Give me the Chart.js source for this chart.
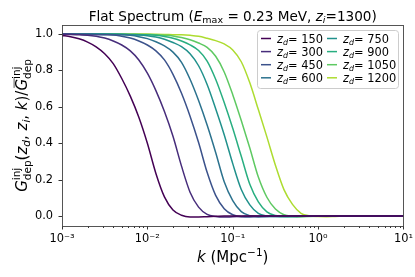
<!DOCTYPE html>
<html>
<head>
<meta charset="utf-8">
<script src="https://cdn.jsdelivr.net/npm/chart.js@4.4.1/dist/chart.umd.min.js"></script>
<style>
  html, body { margin: 0; padding: 0; background: #fff; }
</style>
</head>
<body>
<canvas id="depChart" width="415" height="277"></canvas>
<script>
// log10(k) sample points, k in Mpc^-1
const kExp = [-3.0, -2.9, -2.8, -2.7, -2.6, -2.5, -2.4, -2.3, -2.2, -2.1,
              -2.0, -1.9, -1.8, -1.7, -1.6, -1.5, -1.4, -1.3, -1.2, -1.1,
              -1.0, -0.9, -0.8, -0.7, -0.6, -0.5, -0.4, -0.3, -0.2, -0.1,
               0.0,  0.1,  0.2,  0.3,  0.4,  0.5,  0.6,  0.7,  0.8,  0.9, 1.0];

const zdValues = [150, 300, 450, 600, 750, 900, 1050, 1200];

const g150 = [0.993, 0.986, 0.974, 0.956, 0.93, 0.892, 0.838, 0.756, 0.659, 0.543,
              0.40, 0.234, 0.105, 0.033, 0.004, -0.005, -0.005, -0.0035, -0.002, -0.0005,
              0, 0, 0, 0, 0, 0, 0, 0, 0, 0,
              0, 0, 0, 0, 0, 0, 0, 0, 0, 0, 0];
const g300 = [0.999, 0.998, 0.996, 0.994, 0.988, 0.978, 0.962, 0.94, 0.908, 0.858,
              0.785, 0.689, 0.574, 0.438, 0.274, 0.131, 0.049, 0.009, -0.003, -0.006,
              -0.004, -0.0025, -0.001, 0, 0, 0, 0, 0, 0, 0,
              0, 0, 0, 0, 0, 0, 0, 0, 0, 0, 0];
const g450 = [1.0, 1.0, 0.999, 0.998, 0.997, 0.996, 0.995, 0.988, 0.978, 0.962,
              0.94, 0.908, 0.858, 0.779, 0.675, 0.549, 0.404, 0.24, 0.113, 0.04,
              0.007, -0.004, -0.005, -0.0035, -0.002, -0.001, 0, 0, 0, 0,
              0, 0, 0, 0, 0, 0, 0, 0, 0, 0, 0];
const g600 = [1.0, 1.0, 1.0, 1.0, 0.999, 0.998, 0.997, 0.996, 0.993, 0.986,
              0.975, 0.958, 0.935, 0.901, 0.845, 0.752, 0.635, 0.5, 0.349, 0.188,
              0.084, 0.024, 0.002, -0.004, -0.004, -0.003, -0.0018, -0.0005, 0, 0,
              0, 0, 0, 0, 0, 0, 0, 0, 0, 0, 0];
const g750 = [1.0, 1.0, 1.0, 1.0, 1.0, 1.0, 0.999, 0.998, 0.997, 0.995,
              0.991, 0.984, 0.972, 0.954, 0.931, 0.892, 0.826, 0.723, 0.59, 0.447,
              0.288, 0.146, 0.061, 0.014, 0.0, -0.003, -0.004, -0.003, -0.0015, -0.0005,
              0, 0, 0, 0, 0, 0, 0, 0, 0, 0, 0];
const g900 = [1.0, 1.0, 1.0, 1.0, 1.0, 1.0, 1.0, 0.999, 0.998, 0.997,
              0.996, 0.993, 0.987, 0.977, 0.962, 0.941, 0.91, 0.852, 0.752, 0.624,
              0.482, 0.328, 0.174, 0.078, 0.023, 0.003, -0.003, -0.004, -0.003, -0.002,
              -0.001, 0, 0, 0, 0, 0, 0, 0, 0, 0, 0];
const g1050 = [1.0, 1.0, 1.0, 1.0, 1.0, 1.0, 1.0, 1.0, 0.999, 0.999,
               0.998, 0.997, 0.994, 0.99, 0.981, 0.969, 0.951, 0.927, 0.878, 0.792,
               0.667, 0.525, 0.374, 0.214, 0.103, 0.038, 0.007, -0.001, -0.004, -0.003,
               -0.002, -0.001, 0, 0, 0, 0, 0, 0, 0, 0, 0];
const g1200 = [1.0, 1.0, 1.0, 1.0, 1.0, 1.0, 1.0, 1.0, 1.0, 1.0,
               1.0, 0.999, 0.998, 0.997, 0.996, 0.993, 0.988, 0.977, 0.964, 0.946,
               0.913, 0.848, 0.732, 0.585, 0.435, 0.279, 0.145, 0.064, 0.015, 0.001,
               -0.003, -0.0036, -0.0026, -0.0015, -0.0005, 0, 0, 0, 0, 0, 0];

const seriesValues = [g150, g300, g450, g600, g750, g900, g1050, g1200];

// viridis samples
const lineColors = ['#440154', '#472d7b', '#3b528b', '#2c728e',
                    '#21918c', '#28ae80', '#5ec962', '#addc30'];

const xMajor = [1e-3, 1e-2, 1e-1, 1, 10];
const xTickLabels = ['10\u207B\u00B3', '10\u207B\u00B2', '10\u207B\u00B9', '10\u2070', '10\u00B9'];
const yTicks = [0, 0.2, 0.4, 0.6, 0.8, 1.0];
const yTickLabels = ['0.0', '0.2', '0.4', '0.6', '0.8', '1.0'];

const FONT = '"DejaVu Sans", sans-serif';

function fontOf(sz, it) {
  return (it ? 'italic ' : '') + sz + 'px ' + FONT;
}

// small helper for mathtext-like strings: sub / sup / stacked sup+sub
function measureParts(ctx, parts, sz) {
  let w = 0;
  for (const p of parts) {
    const s = (p.sub || p.sup || p.both) ? sz * 0.7 : sz;
    ctx.font = fontOf(s, p.it);
    let pw = ctx.measureText(p.t).width;
    if (p.both) pw = Math.max(pw, ctx.measureText(p.t2).width);
    p.w = pw;
    w += pw;
  }
  return w;
}

function drawParts(ctx, parts, sz, x, y) {
  for (const p of parts) {
    const s = (p.sub || p.sup || p.both) ? sz * 0.7 : sz;
    ctx.font = fontOf(s, p.it);
    if (p.both) {
      ctx.fillText(p.t, x, y - sz * 0.45);
      ctx.fillText(p.t2, x, y + sz * 0.26);
    } else {
      const dy = p.sub ? sz * 0.22 : (p.sup ? -sz * 0.42 : 0);
      ctx.fillText(p.t, x, y + dy);
    }
    if (p.over) {
      ctx.save();
      ctx.lineWidth = 0.9;
      ctx.beginPath();
      ctx.moveTo(x + sz * 0.18, y - sz * 0.86);
      ctx.lineTo(x + p.w + sz * 0.05, y - sz * 0.86);
      ctx.stroke();
      ctx.restore();
    }
    x += p.w;
  }
}

const titleParts = [
  { t: 'Flat Spectrum (' }, { t: 'E', it: true }, { t: 'max', sub: true },
  { t: ' = 0.23 MeV, ' }, { t: 'z', it: true }, { t: 'i', it: true, sub: true },
  { t: '=1300)' }
];
const xLabelParts = [
  { t: 'k', it: true }, { t: ' (Mpc' }, { t: '\u22121', sup: true }, { t: ')' }
];
const yLabelParts = [
  { t: 'G', it: true }, { t: 'inj', t2: 'dep', both: true },
  { t: '(' }, { t: 'z', it: true }, { t: 'd', it: true, sub: true },
  { t: ', ' }, { t: 'z', it: true }, { t: 'i', it: true, sub: true },
  { t: ', ' }, { t: 'k', it: true }, { t: ')/' },
  { t: 'G', it: true, over: true }, { t: 'inj', t2: 'dep', both: true }
];

const decor = {
  id: 'decor',
  afterDraw(chart) {
    const ctx = chart.ctx;
    const a = chart.chartArea;
    const xs = chart.scales.x, ys = chart.scales.y;
    ctx.save();
    ctx.fillStyle = '#000';
    ctx.strokeStyle = '#000';
    ctx.textBaseline = 'alphabetic';
    ctx.textAlign = 'left';

    // ticks
    ctx.lineWidth = 0.8;
    ctx.beginPath();
    for (const t of xs.ticks) {
      const px = Math.round(xs.getPixelForValue(t.value)) + 0.5;
      const len = xMajor.includes(t.value) ? 3.5 : 2;
      ctx.moveTo(px, a.bottom);
      ctx.lineTo(px, a.bottom + len);
    }
    for (const t of ys.ticks) {
      const py = Math.round(ys.getPixelForValue(t.value)) + 0.5;
      ctx.moveTo(a.left, py);
      ctx.lineTo(a.left - 3.5, py);
    }
    ctx.stroke();

    // frame
    ctx.strokeStyle = '#444';
    ctx.lineWidth = 0.9;
    ctx.strokeRect(Math.round(a.left) + 0.5, Math.round(a.top) + 0.5,
                   Math.round(a.right - a.left), Math.round(a.bottom - a.top));

    // title
    const cx = (a.left + a.right) / 2;
    let w = measureParts(ctx, titleParts, 13.6);
    drawParts(ctx, titleParts, 13.6, cx - w / 2, 20.5);

    // x label
    w = measureParts(ctx, xLabelParts, 15);
    drawParts(ctx, xLabelParts, 15, cx - w / 2, 262);

    // y label
    ctx.save();
    ctx.translate(27, (a.top + a.bottom) / 2);
    ctx.rotate(-Math.PI / 2);
    w = measureParts(ctx, yLabelParts, 15);
    drawParts(ctx, yLabelParts, 15, -w / 2, 0);
    ctx.restore();

    // legend
    const lx = 257, ly = 30, lw = 141, lh = 58;
    ctx.beginPath();
    ctx.roundRect(lx + 0.5, ly + 0.5, lw, lh, 3);
    ctx.fillStyle = 'rgba(255,255,255,0.8)';
    ctx.fill();
    ctx.strokeStyle = '#cccccc';
    ctx.lineWidth = 1;
    ctx.stroke();
    chart.data.datasets.forEach((ds, i) => {
      const col = Math.floor(i / 4), row = i % 4;
      const hx = col === 0 ? 261 : 327;
      const ry = 38.5 + row * 13.1;
      ctx.strokeStyle = ds.borderColor;
      ctx.lineWidth = 1.5;
      ctx.beginPath();
      ctx.moveTo(hx, ry);
      ctx.lineTo(hx + 10, ry);
      ctx.stroke();
      ctx.fillStyle = '#000';
      const parts = [{ t: 'z', it: true }, { t: 'd', it: true, sub: true }, { t: '= ' + zdValues[i] }];
      measureParts(ctx, parts, 11.4);
      drawParts(ctx, parts, 11.4, hx + 16, ry + 4);
    });
    ctx.restore();
  }
};

const datasets = zdValues.map((z, i) => ({
  label: 'z_d= ' + z,
  data: kExp.map((e, j) => ({ x: Math.pow(10, e), y: seriesValues[i][j] })),
  borderColor: lineColors[i],
  borderWidth: 1.5,
  pointRadius: 0,
  fill: false,
  cubicInterpolationMode: 'monotone'
}));

const depChart = new Chart(document.getElementById('depChart'), {
  type: 'line',
  data: { datasets: datasets },
  options: {
    responsive: false,
    animation: false,
    devicePixelRatio: 1,
    layout: { padding: { left: 0, right: 11, top: 25, bottom: 0 } },
    plugins: { legend: { display: false }, tooltip: { enabled: false } },
    scales: {
      x: {
        type: 'logarithmic',
        min: 1e-3,
        max: 10,
        afterFit(s) { s.height = 51; },
        afterBuildTicks(s) {
          const ticks = [];
          for (let d = 0; d < xMajor.length; d++) {
            ticks.push({ value: xMajor[d] });
            if (d < xMajor.length - 1) {
              for (let m = 2; m <= 9; m++) ticks.push({ value: m * xMajor[d] });
            }
          }
          s.ticks = ticks;
        },
        grid: { drawOnChartArea: false, tickLength: 4, color: 'rgba(0,0,0,0)' },
        border: { display: false },
        ticks: {
          autoSkip: false,
          maxRotation: 0,
          padding: 2,
          color: '#000',
          font: { family: FONT, size: 11.4 },
          callback(v) {
            const i = xMajor.indexOf(v);
            return i >= 0 ? xTickLabels[i] : '';
          }
        }
      },
      y: {
        min: -0.055,
        max: 1.05,
        afterFit(s) { s.width = 62; },
        afterBuildTicks(s) { s.ticks = yTicks.map(v => ({ value: v })); },
        grid: { drawOnChartArea: false, tickLength: 4, color: 'rgba(0,0,0,0)' },
        border: { display: false },
        ticks: {
          padding: 5,
          color: '#000',
          font: { family: FONT, size: 11.4 },
          callback(v) {
            const i = yTicks.indexOf(v);
            return i >= 0 ? yTickLabels[i] : '';
          }
        }
      }
    }
  },
  plugins: [decor]
});
</script>
</body>
</html>
